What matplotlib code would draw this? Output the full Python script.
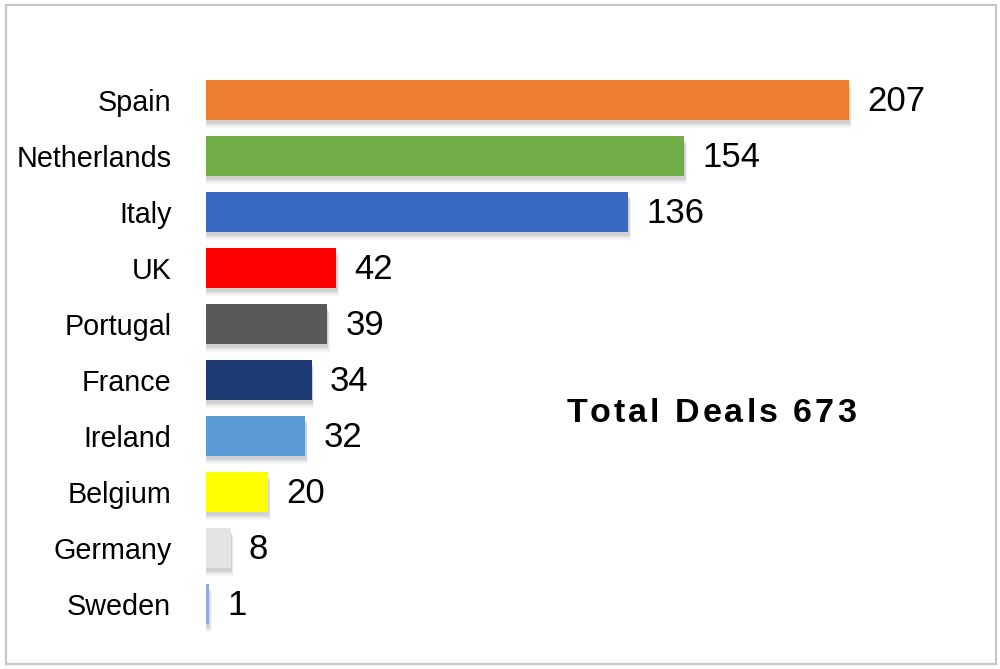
import matplotlib.pyplot as plt
import matplotlib.patches as patch

countries = ["Spain", "Netherlands", "Italy", "UK", "Portugal", "France",
             "Ireland", "Belgium", "Germany", "Sweden"]
deals = [207, 154, 136, 42, 39, 34, 32, 20, 8, 1]
colours = ["#ED7D31", "#70AD47", "#3A69C4", "#FF0000", "#595959", "#1E3A72",
           "#5B9BD5", "#FFFF00", "#E4E4E4", "#8FAADC"]
total_text = "Total Deals 673"

plt.rcParams["font.family"] = ["Liberation Sans", "DejaVu Sans"]

fig = plt.figure(figsize=(10, 6.69), dpi=100)
ax = fig.add_axes([0.206, 0.0553, 0.7827, 0.837])

ypos = list(range(len(countries)))

# soft drop shadow under each bar
for dx, dy, a in [(0.4, 0.08, 0.09), (0.6, 0.11, 0.06), (0.8, 0.14, 0.04)]:
    ax.barh([y + dy for y in ypos], [d + dx for d in deals], height=0.71,
            color="black", alpha=a, linewidth=0, zorder=1)

ax.barh(ypos, deals, height=0.71, color=colours, linewidth=0, zorder=2)

for y, d in zip(ypos, deals):
    ax.annotate(str(d), (d, y), xytext=(13, -1), textcoords="offset points",
                va="center", ha="left", fontsize=25)

ax.set_xlim(0, 252)
ax.set_ylim(9.5, -0.5)
ax.set_yticks(ypos)
ax.set_yticklabels(countries, fontsize=20.7)
ax.tick_params(axis="y", length=0, pad=25)
ax.set_xticks([])
for s in ax.spines.values():
    s.set_visible(False)

# letter-spaced "Total Deals 673"
renderer = fig.canvas.get_renderer()
fsize = 24.5
spacing = 3.0
widths = []
for ch in total_text:
    t = fig.text(0, 0, ch if ch != " " else "a a", fontsize=fsize, fontweight="bold")
    w = t.get_window_extent(renderer).width
    if ch == " ":
        t2 = fig.text(0, 0, "aa", fontsize=fsize, fontweight="bold")
        w = w - t2.get_window_extent(renderer).width
        t2.remove()
    t.remove()
    widths.append(w)
total_w = sum(widths) + spacing * (len(total_text) - 1)
x = 711 - total_w / 2
for ch, w in zip(total_text, widths):
    fig.text(x / 1000, 1 - 413 / 669, ch, fontsize=fsize, fontweight="bold",
             ha="left", va="center")
    x += w + spacing

fig.patches.append(patch.Rectangle((6 / 1000, 5 / 669), 990 / 1000, 659 / 669,
                                   transform=fig.transFigure, fill=False,
                                   edgecolor="#C8C8C8", linewidth=1.6))

fig.savefig("out.png", dpi=100)
